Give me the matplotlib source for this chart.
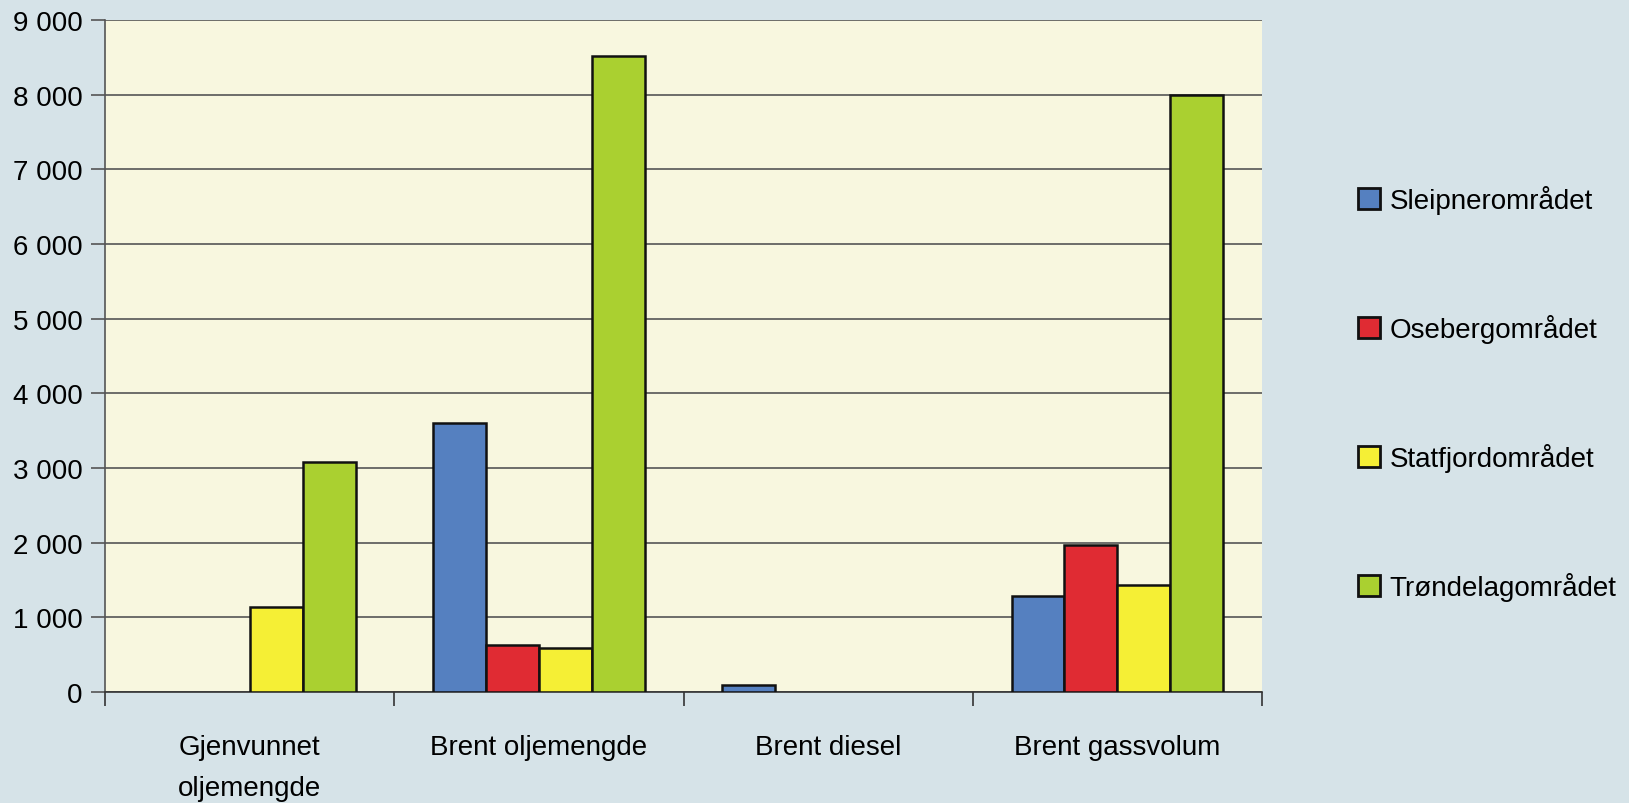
import numpy as np
import matplotlib.pyplot as plt
from matplotlib.ticker import FuncFormatter, FixedLocator

plt.rcParams['font.family'] = ['Liberation Sans Narrow', 'Liberation Sans', 'DejaVu Sans']

categories = ['Gjenvunnet\noljemengde', 'Brent oljemengde', 'Brent diesel', 'Brent gassvolum']
series = ['Sleipnerområdet', 'Osebergområdet', 'Statfjordområdet', 'Trøndelagområdet']
sleipner = [0, 3600, 95, 1280]
oseberg = [0, 630, 0, 1975]
statfjord = [1140, 585, 0, 1435]
trondelag = [3075, 8520, 0, 7990]
colors = ['#5580C0', '#E02B33', '#F5EF35', '#AAD030']

fig = plt.figure(figsize=(16.29, 8.04), dpi=100)
fig.patch.set_facecolor('#D6E3E8')
ax = fig.add_axes([0.0645, 0.138, 0.7102, 0.8359])
ax.set_facecolor('#F8F7DF')

x = np.arange(len(categories))
w = 0.183
for i, (vals, name) in enumerate(zip([sleipner, oseberg, statfjord, trondelag], series)):
    pos = x + (i - 1.5) * w
    v = np.array(vals, dtype=float)
    keep = v > 0
    ax.bar(pos[keep], v[keep], width=w, color=colors[i], edgecolor='#111111',
           linewidth=1.8, zorder=3, label=name)

ax.set_xlim(-0.5, len(categories) - 0.5)
ax.set_ylim(0, 9000)
ax.set_yticks(np.arange(0, 9001, 1000))
ax.yaxis.set_major_formatter(FuncFormatter(lambda v, p: f'{int(v):,}'.replace(',', ' ')))
ax.grid(axis='y', color='#555555', linewidth=1.2, zorder=1)
ax.set_axisbelow(True)

ax.xaxis.set_major_locator(FixedLocator(np.arange(-0.5, len(categories), 1.0)))
ax.set_xticklabels([])
ax.xaxis.set_minor_locator(FixedLocator(x))
ax.set_xticklabels(categories, minor=True)
ax.tick_params(axis='x', which='minor', length=0, pad=30, labelsize=20)
ax.tick_params(axis='x', which='major', length=10, width=1.2, color='#333333')
ax.tick_params(axis='y', length=10, width=1.2, color='#555555', labelsize=20, pad=6)
for lab in ax.get_xticklabels(minor=True):
    lab.set_linespacing(1.75)

ax.spines['top'].set_visible(False)
ax.spines['right'].set_visible(False)
ax.spines['left'].set_color('#555555')
ax.spines['left'].set_linewidth(1.2)
ax.spines['bottom'].set_color('#333333')
ax.spines['bottom'].set_linewidth(1.2)

leg = fig.legend(loc='center left', bbox_to_anchor=(0.818, 0.51), frameon=False,
                 fontsize=20, handlelength=0.8, handleheight=0.8, handletextpad=0.35,
                 labelspacing=3.6)
for h in leg.legend_handles:
    h.set_linewidth(2.0)

fig.savefig('out.png', dpi=100, facecolor=fig.get_facecolor())
